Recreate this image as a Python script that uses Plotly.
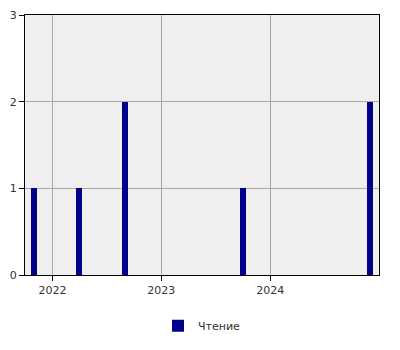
import plotly.graph_objects as go

dates = ["2021-11-01", "2022-04-01", "2022-09-01", "2023-10-01", "2024-12-01"]
values = [1, 1, 2, 1, 2]
series_name = "Чтение"
year_ticks = ["2022-01-01", "2023-01-01", "2024-01-01"]
year_labels = ["2022", "2023", "2024"]

fig = go.Figure()
fig.add_trace(go.Bar(
    x=dates, y=values, name=series_name,
    marker=dict(color="#00008b", line=dict(width=0)),
    width=21 * 86400000,
    showlegend=True,
))

axis_common = dict(
    showline=True, linecolor="black", linewidth=1, mirror=True,
    ticks="outside", ticklen=5, tickcolor="black",
    showgrid=True, gridcolor="#a8a8a8", gridwidth=1,
    zeroline=False, automargin=False,
    tickfont=dict(family="DejaVu Sans", size=11, color="#333333"),
)

fig.update_layout(
    width=400, height=350,
    margin=dict(l=25, r=21, t=15, b=75, autoexpand=False),
    paper_bgcolor="white", plot_bgcolor="#efefef",
    xaxis=dict(type="date", range=["2021-10-01", "2024-12-31"],
               tickvals=year_ticks, ticktext=year_labels, **axis_common),
    yaxis=dict(range=[0, 3], tickvals=[0, 1, 2, 3], **axis_common),
    legend=dict(orientation="h", x=0.5, xanchor="center",
                yref="container", y=0.069, yanchor="middle",
                font=dict(family="DejaVu Sans", size=11, color="#333333")),
    bargap=0,
)

fig.write_html("out.html")
